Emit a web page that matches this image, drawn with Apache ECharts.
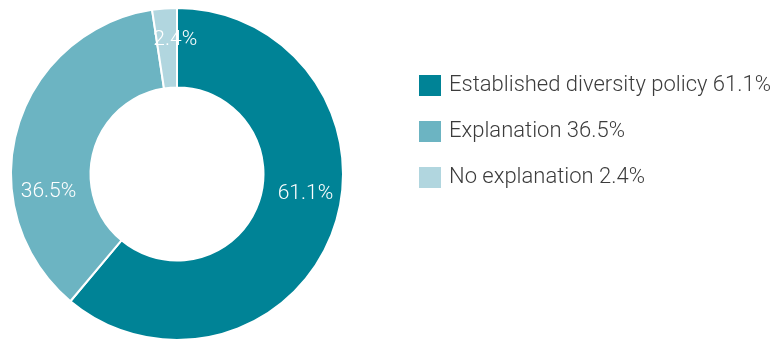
<!DOCTYPE html>
<html><head><meta charset="utf-8">
<script src="https://cdn.jsdelivr.net/npm/echarts@6/dist/echarts.min.js"></script>
<style>html,body{margin:0;padding:0;background:#fff}#c{width:773px;height:340px}</style>
</head><body><div id="c"></div>
<script>
const categories = ['Established diversity policy', 'Explanation', 'No explanation'];
const values = [61.1, 36.5, 2.4];
const colors = ['#008396', '#6CB4C2', '#B1D6DF'];
// small label nudges (px) relative to default inside position
const labelShiftX = [7, -4, 8];
const labelShiftY = [-24, 53, -5];

const chart = echarts.init(document.getElementById('c'), null, {renderer: 'canvas'});
chart.setOption({
  animation: false,
  color: colors,
  legend: {
    orient: 'vertical',
    left: 417, top: 73, padding: 0,
    itemWidth: 24, itemHeight: 23, itemGap: 21,
    icon: 'rect',
    textStyle: {fontFamily: 'Roboto', fontWeight: 300, fontSize: 22, color: '#3c3c3c', padding: [0,0,0,2]},
    formatter: function (name) {
      const i = categories.indexOf(name);
      return name + ' ' + values[i].toFixed(1) + '%';
    }
  },
  series: [{
    type: 'pie',
    center: [177, 174],
    radius: [86.5, 166],
    startAngle: 90,
    clockwise: true,
    itemStyle: {borderColor: '#fff', borderWidth: 2},
    label: {
      show: true, position: 'inside',
      fontFamily: 'Roboto', fontWeight: 300, fontSize: 21, color: '#fff',
      formatter: p => p.value.toFixed(1) + '%'
    },
    labelLayout: function (p) {
      return {dx: labelShiftX[p.dataIndex], dy: labelShiftY[p.dataIndex]};
    },
    emphasis: {disabled: true},
    data: categories.map((n, i) => ({name: n, value: values[i]}))
  }]
});
</script></body></html>
